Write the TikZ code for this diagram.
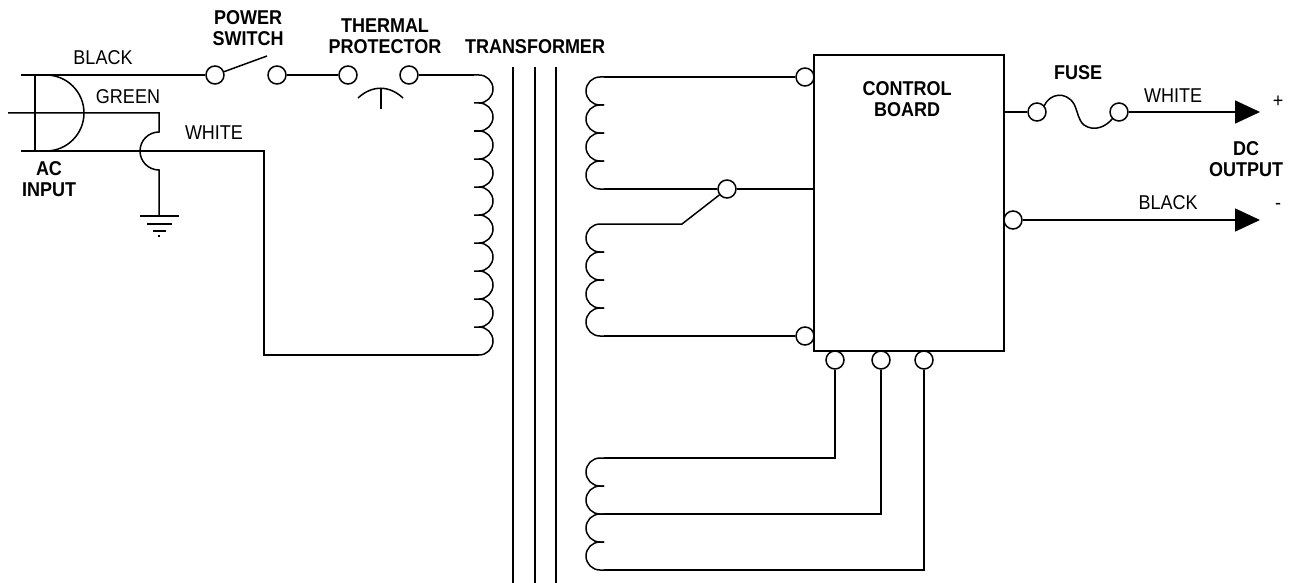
\documentclass[tikz,border=0pt]{standalone}
\usepackage{fontspec}
\setmainfont[FakeStretch=0.9]{Liberation Sans}
\usetikzlibrary{arrows.meta}
\tikzset{
  term/.style={draw,circle,fill=white,minimum size=18pt,inner sep=0pt},
  lab/.style={inner sep=0pt,font=\fontsize{20}{21}\selectfont,align=center},
  blab/.style={inner sep=0pt,font=\fontsize{20}{21.5}\selectfont\bfseries,align=center},
  tip/.style={-{Triangle[length=25pt,width=23pt]}}
}
\begin{document}
\begin{tikzpicture}[x=1pt,y=-1pt,line width=1.5pt,line join=miter]
\useasboundingbox (0,0) rectangle (1292,583);
% plug
\coordinate (pa) at (21,75);
\coordinate (pb) at (8,113);
\coordinate (pc) at (21,151);
\coordinate (pd) at (159,113);
\coordinate (pe) at (264,151);
\coordinate (pf) at (264,355);
\draw (35,75) -- (35,151);
\draw (46,75) arc[start angle=90,end angle=-90,radius=38pt];
\draw (pb) -- (pd) -- (159,132) arc[start angle=90,end angle=270,radius=19pt] -- (159,215);
\draw (pc) -- (pe) -- (pf) -- (474,355);
% ground
\draw (140,216) -- (179,216);
\draw (147,224) -- (172,224);
\draw (153,231) -- (166,231);
\draw (158,236) -- (160,236);
% switch and protector
\node[term] (sw1) at (215,75) {};
\node[term] (sw2) at (277,75) {};
\node[term] (th1) at (348,75) {};
\node[term] (th2) at (409,75) {};
\coordinate (arm) at (267,56);
\coordinate (pri) at (474,75);
\draw (pa) -- (sw1);
\draw (sw1) -- (arm);
\draw (sw2) -- (th1);
\draw (th2) -- (pri);
\draw (358,98) .. controls (372,85) and (389,85) .. (403,98);
\draw (381,88) -- (381,109);
% primary
\foreach \y in {75,103,...,327}
  \draw (474,\y) -- (479,\y) arc[start angle=90,end angle=-90,radius=14pt];
\draw (474,355) -- (479,355);
% core
\foreach \x in {513,535,556}
  \draw (\x,67) -- (\x,583);
% control board
\node[draw,minimum width=190pt,minimum height=296pt,inner sep=0pt] (board) at (909,203) {};
\node[term] (s1) at (805,77) {};
\node[term] (s2) at (727,189) {};
\node[term] (s3) at (805,336) {};
\node[term] (b1) at (835,360) {};
\node[term] (b2) at (881,360) {};
\node[term] (b3) at (924,360) {};
\node[term] (f1) at (1037,112) {};
\node[term] (f2) at (1119,112) {};
\node[term] (o2) at (1013,220) {};
% secondaries
\foreach \y in {77,105,133,161, 224,252,280,308, 458,486,514,542}
  \draw (604,\y) -- (600,\y) arc[start angle=90,end angle=270,radius=14pt] -- (604,\y+28);
\coordinate (c1) at (604,77);
\coordinate (c2) at (604,189);
\coordinate (c3) at (604,224);
\coordinate (c4) at (682,224);
\coordinate (c5) at (604,336);
\coordinate (c6) at (604,458);
\coordinate (c7) at (604,514);
\coordinate (c8) at (604,570);
\coordinate (bd) at (814,189);
\coordinate (fb) at (1004,112);
\draw (c1) -- (s1);
\draw (c2) -- (s2);
\draw (s2) -- (bd);
\draw (c3) -- (c4) -- (s2);
\draw (c5) -- (s3);
\draw (c6) -- (835,458) -- (b1);
\draw (c7) -- (881,514) -- (b2);
\draw (c8) -- (924,570) -- (b3);
% outputs
\coordinate (tw) at (1260,112);
\coordinate (tb) at (1260,220);
\draw (fb) -- (f1);
\draw (1044,106) .. controls (1050,93) and (1066,91) .. (1074,104)
  .. controls (1078,112) and (1078,120) .. (1084,125)
  .. controls (1094,132) and (1106,127) .. (1113,118);
\draw[tip] (f2) -- (tw);
\draw[tip] (o2) -- (tb);
% labels
\node[lab] (lblack) at (103,58) {BLACK};
\node[lab] (lgreen) at (128,97) {GREEN};
\node[lab] (lwhite) at (214,133) {WHITE};
\node[blab] (lac) at (49,179) {AC\\INPUT};
\node[blab] (lsw) at (248,28) {POWER\\SWITCH};
\node[blab] (lth) at (385,36) {THERMAL\\PROTECTOR};
\node[blab] (ltr) at (535,47) {TRANSFORMER};
\node[blab] (lcb) at (907,99) {CONTROL\\BOARD};
\node[blab] (lfu) at (1078,73) {FUSE};
\node[lab] (lwh) at (1173,96) {WHITE};
\node[lab] (lpl) at (1278,102) {+};
\node[blab] (ldc) at (1246,159) {DC\\OUTPUT};
\node[lab] (lbl) at (1168,203) {BLACK};
\node[lab] (lmi) at (1278,206) {-};
\end{tikzpicture}
\end{document}
